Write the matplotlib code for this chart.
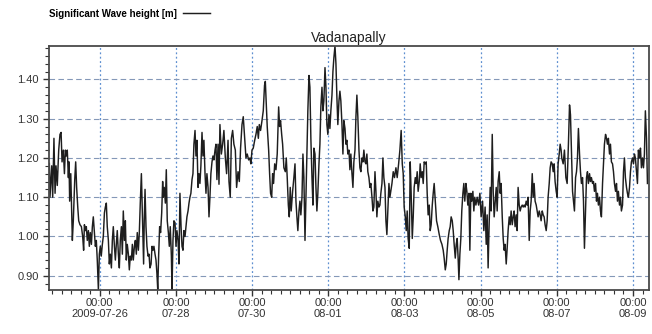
import matplotlib
matplotlib.use("Agg")
import matplotlib.pyplot as plt
import matplotlib.dates as mdates
from matplotlib.ticker import MultipleLocator, FormatStrFormatter
import pandas as pd

# Significant wave height at Vadanapally, hours counted from 2009-07-24 16:00
start_time = "2009-07-24 16:00"
span_hours = 378

hours_from_start = [
    0.2, 0.6, 1.7, 2.3, 3.1, 3.8, 4.4, 5.2, 6.1, 6.9, 7.6, 8.2, 9.0, 9.7, 10.3, 10.9,
    11.5, 12.2, 12.6, 13.0, 13.7, 14.3, 14.7, 15.3, 16.2, 16.8, 17.4, 18.1, 18.7, 19.5,
    20.4, 21.2, 21.8, 22.3, 22.9, 23.5, 24.1, 24.8, 25.4, 26.0, 26.7, 27.3, 27.9, 28.6,
    29.2, 29.8, 30.4, 31.1, 31.7, 32.3, 32.9, 33.6, 34.2, 34.9, 35.5, 36.1, 36.7, 37.4,
    38.0, 38.6, 39.3, 39.9, 40.5, 41.2, 41.8, 42.4, 43.0, 43.7, 44.3, 44.9, 45.6, 46.2,
    46.8, 47.5, 48.1, 48.7, 49.3, 50.0, 50.6, 51.2, 51.9, 52.5, 53.1, 53.8, 54.4, 55.0,
    55.6, 56.3, 56.9, 57.5, 58.2, 58.8, 59.2, 59.6, 60.0, 60.5, 61.1, 61.7, 62.4, 63.0,
    63.6, 64.3, 64.9, 65.5, 66.1, 66.8, 67.4, 68.0, 68.5, 69.1, 69.7, 70.3, 71.0, 71.6,
    72.0, 72.6, 73.3, 73.9, 74.5, 75.2, 75.8, 76.4, 77.1, 77.5, 78.1, 78.7, 79.4, 80.0,
    80.6, 81.3, 81.9, 82.5, 83.2, 83.8, 84.4, 85.0, 85.7, 86.3, 86.9, 87.6, 88.2, 88.8,
    89.4, 90.1, 90.7, 91.3, 92.0, 92.6, 93.2, 93.9, 94.5, 95.1, 95.7, 96.4, 97.0, 97.6,
    98.3, 98.9, 99.5, 100.2, 100.8, 101.4, 102.0, 102.7, 103.3, 103.9, 104.6, 105.2, 105.8,
    106.5, 107.1, 107.7, 108.6, 109.4, 110.2, 111.1, 111.9, 112.8, 113.4, 114.2, 114.9,
    115.7, 116.5, 117.4, 118.2, 119.1, 119.9, 120.7, 121.6, 122.4, 123.3, 124.1, 124.9,
    125.8, 126.6, 127.2, 127.9, 128.7, 129.6, 130.4, 131.2, 131.9, 132.5, 133.3, 134.2,
    135.0, 135.8, 136.3, 136.9, 137.5, 138.4, 139.0, 139.6, 140.3, 140.9, 141.5, 142.2,
    143.0, 143.8, 144.7, 145.3, 145.9, 146.6, 147.2, 148.0, 148.9, 149.5, 150.1, 150.8,
    151.4, 152.0, 152.6, 153.5, 154.3, 155.0, 155.6, 156.2, 156.8, 157.5, 158.1, 158.7,
    159.4, 160.0, 160.6, 161.3, 163.1, 163.8, 164.4, 165.0, 165.7, 166.3, 166.9, 167.6,
    168.2, 168.8, 169.4, 170.1, 170.7, 171.3, 172.0, 172.6, 173.2, 173.9, 174.5, 175.1,
    175.7, 176.4, 177.0, 177.6, 178.3, 178.9, 179.5, 180.2, 180.8, 181.4, 182.0, 182.7,
    183.3, 183.9, 184.6, 185.2, 185.8, 186.5, 187.1, 187.7, 188.3, 189.0, 189.6, 190.2,
    190.9, 191.5, 192.1, 192.8, 193.4, 194.0, 194.6, 195.3, 195.9, 196.5, 197.2, 197.8,
    198.4, 199.1, 199.7, 200.3, 200.9, 201.6, 202.2, 202.8, 203.5, 204.1, 204.7, 205.4,
    206.0, 206.6, 207.2, 207.9, 208.5, 209.1, 209.8, 210.4, 211.0, 211.7, 212.3, 212.9,
    213.5, 214.2, 214.8, 216.1, 216.9, 217.7, 218.6, 219.4, 220.3, 221.1, 221.9, 222.6,
    223.2, 223.8, 224.5, 225.1, 225.7, 226.3, 227.0, 227.6, 228.2, 228.9, 229.5, 230.1,
    230.8, 231.4, 232.0, 232.6, 233.3, 233.9, 234.5, 235.2, 235.8, 236.4, 237.1, 237.7,
    238.3, 238.9, 239.6, 240.2, 240.8, 241.5, 242.1, 242.7, 243.4, 244.2, 245.0, 245.9,
    246.7, 247.6, 248.4, 249.0, 249.7, 250.3, 250.9, 251.5, 252.2, 252.8, 253.4, 254.1,
    254.7, 255.3, 256.0, 256.6, 257.2, 257.8, 258.3, 258.9, 259.5, 260.1, 260.8, 261.4,
    262.0, 262.7, 263.3, 263.9, 264.6, 265.2, 265.8, 266.4, 267.1, 267.7, 268.3, 269.0,
    269.8, 270.7, 271.5, 272.3, 273.2, 274.0, 274.8, 275.5, 276.1, 276.7, 277.4, 278.0,
    278.6, 279.3, 279.9, 280.5, 281.2, 281.8, 282.4, 283.0, 283.7, 284.3, 284.9, 285.6,
    286.2, 286.8, 287.4, 288.1, 288.7, 289.3, 290.0, 290.6, 291.2, 291.9, 292.5, 293.1,
    293.7, 294.4, 295.0, 295.6, 296.3, 296.9, 297.5, 298.2, 298.8, 299.4, 300.0, 300.7,
    301.3, 301.9, 302.6, 303.2, 303.8, 304.5, 305.1, 305.7, 306.3, 307.0, 307.6, 308.2,
    308.9, 309.5, 310.1, 310.8, 311.4, 312.0, 312.6, 313.3, 313.9, 314.5, 315.2, 315.8,
    316.4, 317.1, 317.7, 318.3, 318.9, 319.6, 320.2, 320.8, 321.5, 322.1, 322.7, 323.1,
    324.0, 324.8, 325.7, 326.5, 327.3, 328.0, 328.6, 329.2, 329.9, 330.5, 331.1, 331.8,
    332.4, 333.0, 333.6, 334.3, 334.9, 335.5, 336.2, 336.8, 337.4, 338.1, 338.7, 339.3,
    339.9, 340.6, 341.2, 341.8, 342.5, 343.1, 343.7, 344.4, 345.0, 345.6, 346.2, 346.9,
    347.5, 348.1, 348.8, 349.4, 350.0, 350.7, 351.3, 351.9, 352.5, 353.2, 353.8, 354.4,
    355.1, 355.7, 356.3, 357.0, 357.6, 358.2, 358.8, 359.5, 360.1, 360.7, 361.4, 362.0,
    362.6, 363.2, 363.9, 364.5, 365.1, 365.8, 366.4, 367.0, 367.7, 368.3, 368.9, 369.5,
    370.2, 370.8, 371.4, 372.1, 372.7, 373.3, 374.0, 374.6, 375.2, 375.8, 376.5, 377.1,
]

wave_height = [
    1.186, 1.10, 1.18, 1.10, 1.25, 1.11, 1.18, 1.13, 1.22, 1.26, 1.265, 1.19, 1.22, 1.16, 1.22, 1.205,
    1.22, 1.15, 1.19, 1.09, 1.16, 1.06, 0.99, 1.04, 1.145, 1.19, 1.125, 1.075, 1.04, 1.03,
    1.025, 1.00, 0.965, 1.03, 1.015, 1.025, 0.99, 1.015, 0.975, 1.01, 0.98, 1.025, 1.05, 1.01,
    0.975, 0.99, 0.94, 0.865, 0.955, 0.975, 0.95, 0.98, 1.00, 1.06, 1.075, 1.085, 1.025, 0.99,
    0.93, 0.955, 0.92, 0.99, 1.025, 0.975, 0.94, 0.98, 1.015, 0.955, 0.92, 0.99, 1.025, 0.955,
    1.065, 0.99, 1.04, 0.94, 0.98, 0.955, 0.915, 0.95, 0.94, 0.98, 0.94, 0.975, 0.99, 0.955,
    1.01, 0.965, 1.01, 1.085, 1.16, 1.06, 0.99, 0.93, 1.04, 1.12, 1.025, 0.975, 0.95, 0.955,
    0.92, 0.93, 0.975, 0.965, 0.975, 0.955, 0.94, 0.905, 0.865, 0.955, 1.025, 1.01, 1.06, 1.14,
    1.10, 1.125, 1.085, 1.17, 1.04, 1.01, 0.975, 1.025, 0.95, 0.865, 0.99, 1.04, 1.035, 0.975,
    1.015, 0.99, 0.93, 1.11, 1.025, 0.975, 0.965, 1.015, 1.00, 1.025, 1.05, 1.065, 1.085, 1.10,
    1.11, 1.145, 1.16, 1.235, 1.27, 1.205, 1.245, 1.125, 1.16, 1.135, 1.18, 1.265, 1.205, 1.245,
    1.16, 1.11, 1.16, 1.125, 1.05, 1.10, 1.16, 1.19, 1.205, 1.195, 1.22, 1.235, 1.145,
    1.235, 1.133, 1.285, 1.21, 1.235, 1.27, 1.20, 1.16, 1.245, 1.14, 1.10, 1.25,
    1.27, 1.235, 1.22, 1.125, 1.165, 1.14, 1.225, 1.285, 1.305, 1.25, 1.20, 1.21,
    1.195, 1.20, 1.185, 1.22, 1.225, 1.245, 1.26, 1.28, 1.25, 1.285, 1.27, 1.295,
    1.32, 1.385, 1.395, 1.335, 1.28, 1.22, 1.16, 1.11, 1.10, 1.16, 1.135, 1.185,
    1.17, 1.21, 1.33, 1.28, 1.295, 1.26, 1.235, 1.175, 1.165, 1.20, 1.15, 1.08,
    1.05, 1.125, 1.065, 1.115, 1.15, 1.185, 1.09, 1.05, 1.015, 1.065, 1.09, 1.055,
    1.10, 1.21, 1.15, 0.99, 1.32, 1.41, 1.38, 1.25, 1.15, 1.08, 1.225, 1.21,
    1.125, 1.065, 1.11, 1.185, 1.235, 1.33, 1.38, 1.32, 1.345, 1.43, 1.38, 1.285,
    1.26, 1.31, 1.275, 1.32, 1.36, 1.42, 1.455, 1.485, 1.44, 1.355, 1.285, 1.345,
    1.37, 1.345, 1.285, 1.21, 1.295, 1.275, 1.235, 1.245, 1.21, 1.22, 1.17, 1.21,
    1.16, 1.125, 1.19, 1.22, 1.305, 1.36, 1.305, 1.22, 1.175, 1.165, 1.20, 1.19,
    1.22, 1.19, 1.185, 1.21, 1.165, 1.15, 1.125, 1.135, 1.10, 1.065, 1.075, 1.165,
    1.115, 1.05, 1.09, 1.075, 1.08, 1.11, 1.135, 1.20, 1.15, 1.125, 1.04, 1.005,
    1.065, 1.135, 1.10, 1.135, 1.165, 1.15, 1.175, 1.15, 1.185, 1.22, 1.27, 1.185,
    1.16, 1.075, 1.05, 1.015, 1.065, 0.995, 0.97, 1.19, 1.11, 0.995, 1.05, 1.125,
    1.15, 1.135, 1.165, 1.115, 1.14, 1.185, 1.15, 1.165, 1.135, 1.19, 1.185, 1.19,
    1.11, 1.055, 1.08, 1.015, 1.03, 1.08, 1.11, 1.135, 1.09, 1.04, 1.025, 1.005,
    0.99, 0.98, 0.965, 0.945, 0.915, 0.93, 0.965, 0.995, 1.015, 1.025, 1.05, 1.04,
    1.015, 0.98, 0.945, 0.98, 0.995, 0.945, 0.89, 0.955, 0.995, 1.065, 1.11, 1.135,
    1.09, 1.135, 1.115, 1.08, 1.11, 0.965, 1.11, 1.09, 1.115, 1.065, 1.10, 1.08,
    1.10, 1.08, 1.11, 1.05, 1.09, 1.015, 1.075, 0.98, 1.055, 0.92, 1.04, 1.125,
    1.065, 1.26, 1.115, 1.05, 1.09, 1.125, 1.065, 1.14, 1.165, 1.11, 1.135, 1.05,
    0.995, 0.965, 0.98, 0.93, 0.97, 1.015, 1.05, 1.03, 1.065, 1.03, 1.05, 1.065,
    1.025, 1.055, 1.015, 1.125, 1.08, 1.065, 1.075, 1.08, 1.075, 1.08, 1.075, 1.09,
    1.08, 1.10, 0.99, 1.065, 1.09, 1.16, 1.10, 1.135, 1.09, 1.08, 1.065, 1.05,
    1.065, 1.055, 1.04, 1.065, 1.055, 1.05, 1.03, 1.015, 1.04, 1.10, 1.135, 1.175,
    1.19, 1.185, 1.165, 1.185, 1.14, 1.115, 1.10, 1.185, 1.21, 1.235, 1.22, 1.20,
    1.185, 1.22, 1.15, 1.135, 1.235, 1.335, 1.31, 1.22, 1.115, 1.09, 1.065, 1.15,
    1.165, 1.20, 1.275, 1.21, 1.165, 1.135, 1.15, 1.09, 0.97, 1.065, 1.15, 1.165,
    1.135, 1.16, 1.14, 1.15, 1.135, 1.14, 1.115, 1.135, 1.09, 1.11, 1.08, 1.10,
    1.065, 1.05, 1.135, 1.185, 1.235, 1.26, 1.25, 1.235, 1.25, 1.21, 1.235, 1.19,
    1.185, 1.165, 1.135, 1.115, 1.135, 1.09, 1.115, 1.08, 1.10, 1.065, 1.08, 1.165,
    1.20, 1.15, 1.125, 1.11, 1.10, 1.125, 1.165, 1.19, 1.20, 1.185, 1.21, 1.20,
    1.165, 1.135, 1.22, 1.20, 1.225, 1.175, 1.20, 1.175, 1.21, 1.32, 1.25, 1.135,
]

# tick labels: the first shows the full date, the rest only month-day
def date_label(x, pos=None):
    d = mdates.num2date(x)
    if d.month == 7 and d.day == 26:
        return d.strftime("%H:%M\n%Y-%m-%d")
    return d.strftime("%H:%M\n%m-%d")


t0 = pd.Timestamp(start_time)
times = t0 + pd.to_timedelta(hours_from_start, unit="h")

plt.rcParams["font.family"] = ["Liberation Sans", "DejaVu Sans"]

fig = plt.figure(figsize=(6.52, 3.34), dpi=100)
ax = fig.add_axes([0.0752, 0.1332, 0.92, 0.729])

ax.plot(times, wave_height, color="#1e1e1e", linewidth=1.05,
        label="Significant Wave height [m]")

ax.set_xlim(t0, t0 + pd.Timedelta(hours=span_hours))
ax.set_ylim(0.865, 1.485)

ax.xaxis.set_major_locator(mdates.DayLocator(bymonthday=[26, 28, 30, 1, 3, 5, 7, 9]))
ax.xaxis.set_minor_locator(mdates.HourLocator(byhour=[0, 6, 12, 18]))
ax.xaxis.set_major_formatter(plt.FuncFormatter(date_label))
ax.yaxis.set_major_locator(MultipleLocator(0.1))
ax.yaxis.set_minor_locator(MultipleLocator(0.02))
ax.yaxis.set_major_formatter(FormatStrFormatter("%.2f"))

ax.tick_params(axis="both", which="major", labelsize=8, colors="#333333",
               length=4, width=1, direction="out")
ax.tick_params(axis="both", which="minor", length=3, width=0.8,
               color="#333333", direction="out")
ax.tick_params(axis="x", pad=2)

# dashed horizontal and dotted vertical grid
ax.grid(True, axis="y", which="major", linestyle=(0, (5, 3)),
        color="#8498b8", linewidth=0.8)
ax.grid(True, axis="x", which="major", linestyle=(0, (1.5, 2)),
        color="#5d8fd0", linewidth=0.9)

for side in ax.spines.values():
    side.set_color("#4a4a4a")
    side.set_linewidth(1.3)

ax.set_title("Vadanapally", fontsize=10, color="#222222", pad=3)

fig.legend(loc="upper left", bbox_to_anchor=(0.062, 1.0), frameon=False,
           markerfirst=False, handlelength=2.8, handletextpad=0.6,
           prop={"weight": "bold", "size": 7})

fig.savefig("out.png", dpi=100, facecolor="white")
plt.close(fig)
